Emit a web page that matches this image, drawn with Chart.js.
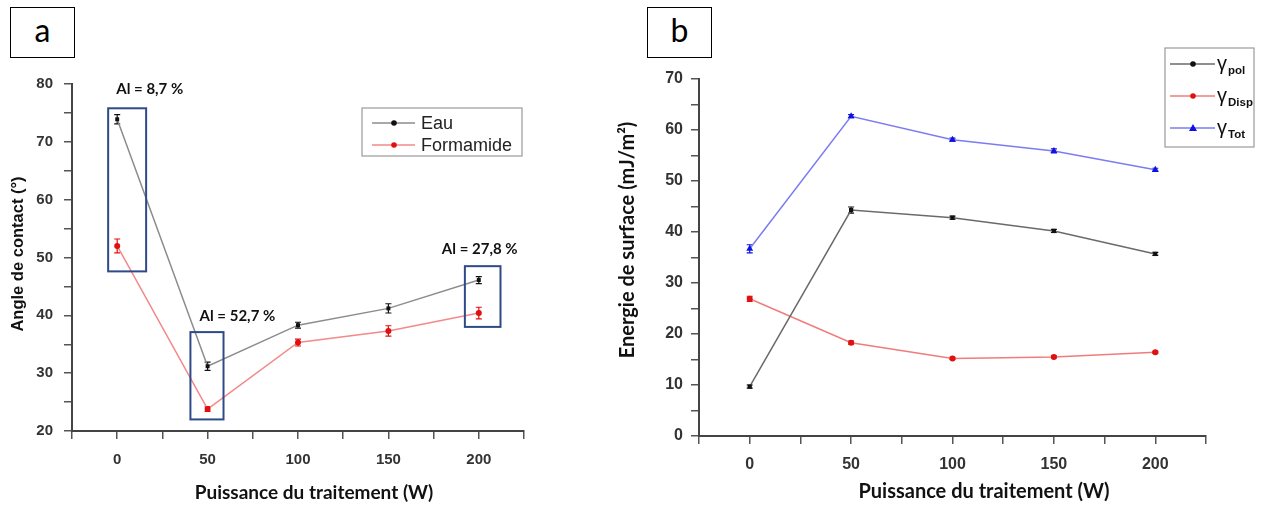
<!DOCTYPE html>
<html>
<head>
<meta charset="utf-8">
<script src="https://cdn.jsdelivr.net/npm/chart.js@4/dist/chart.umd.min.js"></script>
<style>
  body { margin: 0; background: #fff; width: 1263px; height: 506px; position: relative; overflow: hidden; }
  #boxA { position: absolute; left: 0; top: 0; }
  #boxB { position: absolute; left: 590px; top: 0; }
  .tag { position: absolute; top: 7px; width: 63px; height: 49px; border: 1.5px solid #000;
         font: 32px Lato, sans-serif; text-align: center; line-height: 44px; color: #000; background: #fff; }
</style>
</head>
<body>
<canvas id="boxA" width="590" height="506"></canvas>
<canvas id="boxB" width="673" height="506"></canvas>
<div class="tag" style="left:10px">a</div>
<div class="tag" style="left:647px">b</div>
<script>
// values
const power = [0, 50, 100, 150, 200];

const eau = [73.9, 31.2, 38.3, 41.2, 46.1];
const eauErr = [0.8, 0.7, 0.5, 0.8, 0.6];
const formamide = [52.0, 23.8, 35.3, 37.3, 40.4];
const formamideErr = [1.2, 0.4, 0.6, 0.9, 1.0];

const gammaPol = [9.7, 44.3, 42.8, 40.2, 35.7];
const gammaPolErr = [0.3, 0.6, 0.3, 0.3, 0.3];
const gammaDisp = [26.9, 18.3, 15.2, 15.5, 16.4];
const gammaDispErr = [0.5, 0.3, 0.2, 0.2, 0.2];
const gammaTot = [36.7, 62.7, 58.1, 55.9, 52.2];
const gammaTotErr = [0.8, 0.3, 0.3, 0.4, 0.3];

const aiLabels = ['Al = 8,7 %', 'Al = 52,7 %', 'Al = 27,8 %'];

const pts = vals => power.map((p, i) => ({ x: p, y: vals[i] }));
const sans = "'Liberation Sans', Arial, sans-serif";
const calib = "Lato, 'Open Sans', sans-serif";

// error bars, drawn under the markers
const errorBars = {
  id: 'errorBars',
  beforeDatasetsDraw(chart) {
    const { ctx, scales: { x, y } } = chart;
    ctx.save();
    chart.data.datasets.forEach(ds => {
      ctx.strokeStyle = ds.errColor;
      ctx.lineWidth = 1.2;
      ds.data.forEach((p, i) => {
        const e = ds.errors[i];
        const px = x.getPixelForValue(p.x);
        const y0 = y.getPixelForValue(p.y - e), y1 = y.getPixelForValue(p.y + e);
        ctx.beginPath();
        ctx.moveTo(px, y0); ctx.lineTo(px, y1);
        ctx.moveTo(px - 3, y0); ctx.lineTo(px + 3, y0);
        ctx.moveTo(px - 3, y1); ctx.lineTo(px + 3, y1);
        ctx.stroke();
      });
    });
    ctx.restore();
  }
};

function marker(ctx, style, x, y, color) {
  ctx.fillStyle = color;
  ctx.beginPath();
  if (style === 'rect') ctx.rect(x - 3, y - 3, 6, 6);
  else if (style === 'triangle') { ctx.moveTo(x, y - 4); ctx.lineTo(x + 4, y + 3); ctx.lineTo(x - 4, y + 3); ctx.closePath(); }
  else ctx.arc(x, y, 2.8, 0, Math.PI * 2);
  ctx.fill();
}

function text(ctx, str, x, y, font, color, align, rot) {
  ctx.save();
  ctx.translate(x, y);
  if (rot) ctx.rotate(rot);
  ctx.font = font;
  ctx.fillStyle = color;
  ctx.textAlign = align || 'center';
  ctx.textBaseline = 'middle';
  ctx.fillText(str, 0, 0);
  ctx.restore();
}

// boxes and notes of panel a
const overlayA = {
  id: 'overlayA',
  afterDraw(chart) {
    const { ctx, scales: { x, y } } = chart;
    ctx.save();
    ctx.strokeStyle = '#2f4a88';
    ctx.lineWidth = 2;
    [[-5, 16, 47.6, 75.8], [40.5, 58.8, 22, 37.1], [192.3, 212, 38, 48.5]].forEach(b => {
      const l = x.getPixelForValue(b[0]), r = x.getPixelForValue(b[1]);
      const t = y.getPixelForValue(b[3]), btm = y.getPixelForValue(b[2]);
      ctx.strokeRect(l, t, r - l, btm - t);
    });
    [[18, 79.1], [66.5, 39.9], [200.5, 51.5]].forEach((p, i) => {
      text(ctx, aiLabels[i], x.getPixelForValue(p[0]), y.getPixelForValue(p[1]), 'bold 15px ' + calib, '#111');
    });

    // legend
    ctx.strokeStyle = '#9a9a9a';
    ctx.lineWidth = 1.2;
    ctx.strokeRect(362, 108, 160, 48);
    chart.data.datasets.forEach((ds, i) => {
      const ly = 123 + i * 22;
      ctx.strokeStyle = ds.borderColor;
      ctx.lineWidth = 1.5;
      ctx.beginPath(); ctx.moveTo(372, ly); ctx.lineTo(415, ly); ctx.stroke();
      marker(ctx, 'circle', 394, ly, ds.pointBackgroundColor);
      text(ctx, ds.label, 421, ly + 1, '18px ' + sans, '#222', 'left');
    });

    text(ctx, 'Angle de contact (°)', 18, 254, 'bold 16.5px ' + sans, '#111', 'center', -Math.PI / 2);
    text(ctx, 'Puissance du traitement (W)', 314, 493, 'bold 19px ' + calib, '#111');
    ctx.restore();
  }
};

// legend and titles of panel b
const overlayB = {
  id: 'overlayB',
  afterDraw(chart) {
    const { ctx } = chart;
    ctx.save();
    ctx.strokeStyle = '#9a9a9a';
    ctx.lineWidth = 1.2;
    ctx.strokeRect(575, 48, 89, 99);
    chart.data.datasets.forEach((ds, i) => {
      const ly = 64 + i * 32;
      ctx.strokeStyle = ds.borderColor;
      ctx.lineWidth = 1.5;
      ctx.beginPath(); ctx.moveTo(580, ly); ctx.lineTo(625, ly); ctx.stroke();
      marker(ctx, ds.pointStyle === 'rect' ? 'circle' : ds.pointStyle, 603, ly, ds.pointBackgroundColor);
      text(ctx, 'γ', 627, ly, '20px ' + sans, '#111', 'left');
      text(ctx, ds.label, 638, ly + 7, 'bold 11.5px ' + sans, '#111', 'left');
    });
    text(ctx, 'Energie de surface (mJ/m²)', 38, 240, 'bold 20px ' + calib, '#111', 'center', -Math.PI / 2);
    text(ctx, 'Puissance du traitement (W)', 394, 492, 'bold 20px ' + calib, '#111');
    ctx.restore();
  }
};

function series(label, vals, errs, line, color, style, radius) {
  return {
    label: label,
    data: pts(vals),
    errors: errs,
    errColor: color,
    borderColor: line,
    borderWidth: 1.5,
    pointStyle: style,
    pointRadius: radius,
    pointBackgroundColor: color,
    pointBorderColor: color,
    pointBorderWidth: 0,
    tension: 0
  };
}

function buildChart(id, datasets, cfg, overlay) {
  const axisGrid = { drawOnChartArea: false, drawTicks: true, tickLength: 8, color: '#555', lineWidth: 1.5 };
  const axisBorder = { display: true, color: '#444', width: 2 };
  return new Chart(document.getElementById(id), {
    type: 'line',
    data: { datasets: datasets },
    options: {
      responsive: false,
      animation: false,
      layout: { padding: { left: 0, top: cfg.top, right: cfg.right, bottom: 0 }, autoPadding: false },
      plugins: { legend: { display: false }, tooltip: { enabled: false } },
      scales: {
        x: {
          type: 'linear', min: -25, max: 225,
          afterFit: s => { s.height = cfg.xHeight; },
          ticks: {
            stepSize: 25, autoSkip: false, maxRotation: 0, padding: cfg.xPad, color: '#333',
            font: { family: sans, size: cfg.fs, weight: 'bold' },
            callback: v => power.includes(v) ? String(v) : ''
          },
          grid: axisGrid,
          border: axisBorder
        },
        y: {
          min: cfg.yMin, max: cfg.yMax,
          afterFit: s => { s.width = cfg.yWidth; },
          ticks: {
            stepSize: 5, autoSkip: false, padding: cfg.yPad, color: '#333',
            font: { family: sans, size: cfg.fs, weight: 'bold' },
            callback: v => v % 10 === 0 ? String(v) : ''
          },
          grid: axisGrid,
          border: axisBorder
        }
      }
    },
    plugins: [errorBars, overlay]
  });
}

buildChart('boxA', [
  series('Eau', eau, eauErr, '#8c8c8c', '#111', 'rect', 2.8),
  series('Formamide', formamide, formamideErr, '#f28a8a', '#e01010', 'circle', 3)
], { top: 84, right: 66, xHeight: 75, yWidth: 72, yMin: 20, yMax: 80, xPad: 12, yPad: 11, fs: 15 }, overlayA);

buildChart('boxB', [
  series('pol', gammaPol, gammaPolErr, '#6a6a6a', '#111', 'rect', 3),
  series('Disp', gammaDisp, gammaDispErr, '#f07c7c', '#e01010', 'circle', 3),
  series('Tot', gammaTot, gammaTotErr, '#7c7cf2', '#1010e0', 'triangle', 4)
], { top: 79, right: 57, xHeight: 70, yWidth: 109, yMin: 0, yMax: 70, xPad: 11, yPad: 8, fs: 16 }, overlayB);
</script>
</body>
</html>
